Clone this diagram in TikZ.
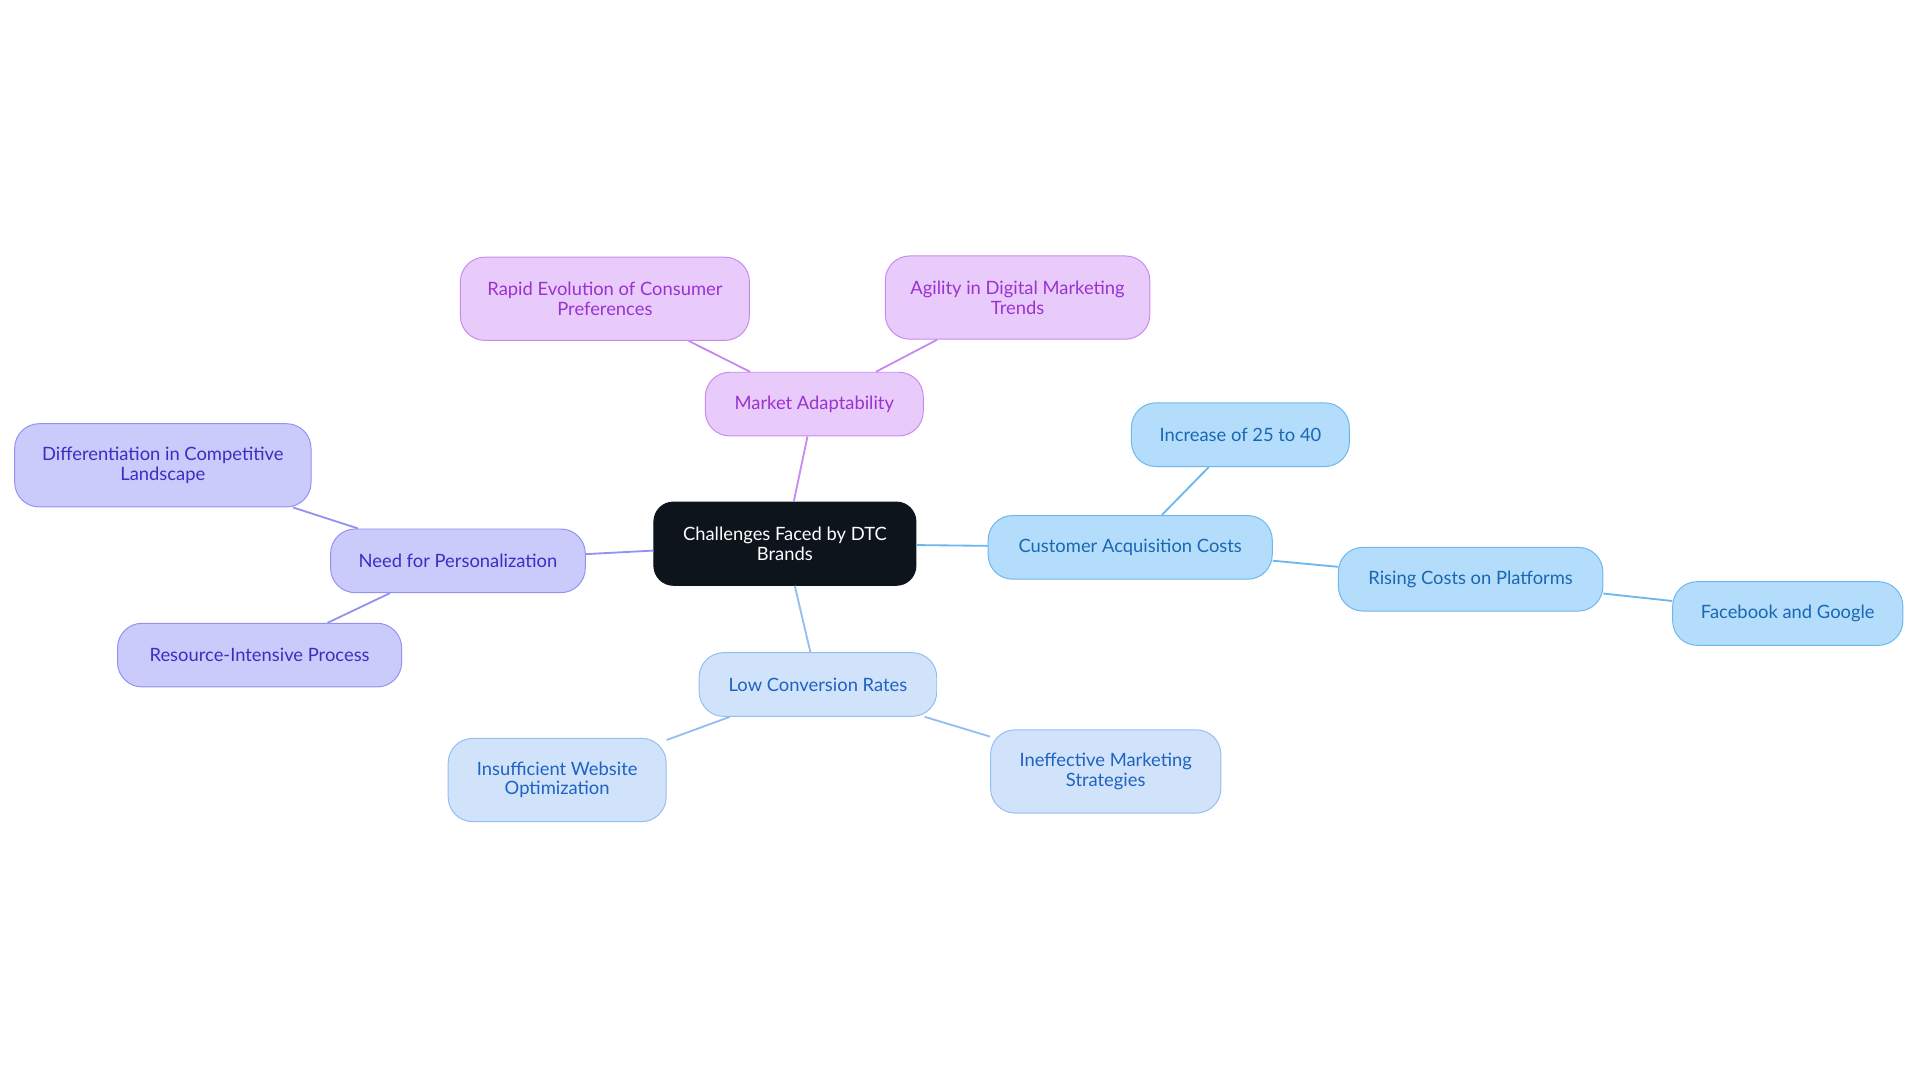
\documentclass[tikz,border=0pt]{standalone}
\usepackage{fontspec}
\setmainfont{Lato}
\definecolor{rootc}{HTML}{0D141C}
\definecolor{pf}{HTML}{E8CBFB}\definecolor{pd}{HTML}{C98AEE}\definecolor{pt}{HTML}{9A32D0}
\definecolor{vf}{HTML}{CACAFB}\definecolor{vd}{HTML}{9492F0}\definecolor{vt}{HTML}{3A2FC2}
\definecolor{lf}{HTML}{D0E3FB}\definecolor{ld}{HTML}{93BEF1}\definecolor{lt}{HTML}{1E62C2}
\definecolor{cf}{HTML}{B4DDFC}\definecolor{cd}{HTML}{6CB7EE}\definecolor{ct}{HTML}{1A67B2}
\tikzset{
 box/.style={rounded corners=20pt,align=center,font=\fontsize{15}{16}\selectfont,inner sep=0pt,line width=0.8pt},
 pbox/.style={box,fill=pf,draw=pd,text=pt},
 vbox/.style={box,fill=vf,draw=vd,text=vt},
 lbox/.style={box,fill=lf,draw=ld,text=lt},
 cbox/.style={box,fill=cf,draw=cd,text=ct},
 pe/.style={draw=pd,line width=1.5pt},
 ve/.style={draw=vd,line width=1.5pt},
 le/.style={draw=ld,line width=1.5pt},
 ce/.style={draw=cd,line width=1.5pt},
}
\begin{document}
\begin{tikzpicture}[x=1pt,y=-1pt]
\useasboundingbox (0,0) rectangle (1568,884);
\node[box,fill=rootc,text=white,draw=rootc,rounded corners=16pt,minimum width=214pt,minimum height=68pt] (r) at (641,444) {Challenges Faced by DTC\\Brands};
\node[pbox,minimum width=178pt,minimum height=52pt] (ma) at (665,330) {Market Adaptability};
\node[pbox,minimum width=236pt,minimum height=68pt] (re) at (494,244) {Rapid Evolution of Consumer\\Preferences};
\node[pbox,minimum width=216pt,minimum height=68pt] (ag) at (831,243) {Agility in Digital Marketing\\Trends};
\node[vbox,minimum width=208pt,minimum height=52pt] (np) at (374,458) {Need for Personalization};
\node[vbox,minimum width=242pt,minimum height=68pt] (di) at (133,380) {Differentiation in Competitive\\Landscape};
\node[vbox,minimum width=232pt,minimum height=52pt] (ri) at (212,535) {Resource-Intensive Process};
\node[lbox,minimum width=194pt,minimum height=52pt] (lc) at (668,559) {Low Conversion Rates};
\node[lbox,minimum width=178pt,minimum height=68pt] (is) at (455,637) {Insufficient Website\\Optimization};
\node[lbox,minimum width=188pt,minimum height=68pt] (ie) at (903,630) {Ineffective Marketing\\Strategies};
\node[cbox,minimum width=232pt,minimum height=52pt] (ca) at (923,447) {Customer Acquisition Costs};
\node[cbox,minimum width=178pt,minimum height=52pt] (in) at (1013,355) {Increase of 25 to 40};
\node[cbox,minimum width=216pt,minimum height=52pt] (rc) at (1201,473) {Rising Costs on Platforms};
\node[cbox,minimum width=188pt,minimum height=52pt] (fb) at (1460,501) {Facebook and Google};
\draw[pe] (r) -- (ma); \draw[pe] (ma) -- (re); \draw[pe] (ma) -- (ag);
\draw[ve] (r) -- (np); \draw[ve] (np) -- (di); \draw[ve] (np) -- (ri);
\draw[le] (r) -- (lc); \draw[le] (lc) -- (is); \draw[le] (lc) -- (ie);
\draw[ce] (r) -- (ca); \draw[ce] (ca) -- (in); \draw[ce] (ca) -- (rc); \draw[ce] (rc) -- (fb);
\end{tikzpicture}
\end{document}
